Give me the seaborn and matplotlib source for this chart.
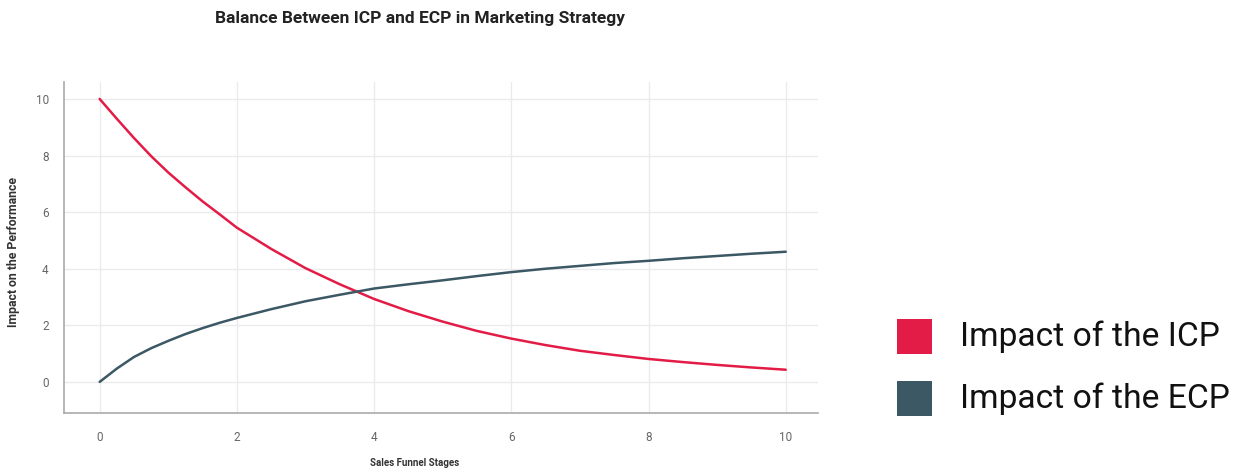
import matplotlib
matplotlib.use("Agg")
import matplotlib.pyplot as plt
from matplotlib.patches import Rectangle
import pandas as pd
import seaborn as sns

# Sales funnel stage positions and the two impact curves
stages = [0, 0.25, 0.5, 0.75, 1, 1.25, 1.5, 1.75, 2, 2.5, 3, 3.5, 4, 4.5, 5, 5.5, 6,
          6.5, 7, 7.5, 8, 8.5, 9, 9.5, 10]
icp_impact = [10, 9.3, 8.62, 7.98, 7.4, 6.88, 6.38, 5.92, 5.45, 4.7, 4.02, 3.45, 2.93,
              2.5, 2.13, 1.8, 1.53, 1.3, 1.1, 0.95, 0.81, 0.7, 0.6, 0.51, 0.43]
ecp_impact = [0, 0.47, 0.88, 1.19, 1.45, 1.69, 1.9, 2.09, 2.26, 2.57, 2.85, 3.08, 3.3,
              3.45, 3.59, 3.74, 3.88, 4.0, 4.1, 4.2, 4.28, 4.37, 4.45, 4.53, 4.6]
series_names = ["Impact of the ICP", "Impact of the ECP"]
series_colors = ["#E31C47", "#3B5864"]
x_ticks = [0, 2, 4, 6, 8, 10]
y_ticks = [0, 2, 4, 6, 8, 10]

df = pd.DataFrame({
    "stage": stages * 2,
    "impact": icp_impact + ecp_impact,
    "series": [series_names[0]] * len(stages) + [series_names[1]] * len(stages),
})

sns.set_style("whitegrid")
plt.rcParams["font.family"] = ["Roboto", "DejaVu Sans"]

fig = plt.figure(figsize=(12.43, 4.70), dpi=100)
ax = fig.add_axes([64 / 1243, 57 / 470, 754 / 1243, 331 / 470])

sns.lineplot(data=df, x="stage", y="impact", hue="series",
             palette=dict(zip(series_names, series_colors)),
             linewidth=1.8, legend=False, ax=ax)

ax.set_xlim(-0.52, 10.47)
ax.set_ylim(-1.1, 10.6)
ax.set_xticks(x_ticks)
ax.set_yticks(y_ticks)
ax.tick_params(axis="both", labelsize=8.5, colors="#666666", length=0, pad=13)
ax.tick_params(axis="y", pad=11)
ax.grid(True, color="#EBEBEB", linewidth=1.0)
for side in ["top", "right"]:
    ax.spines[side].set_visible(False)
for side in ["left", "bottom"]:
    ax.spines[side].set_color("#AAAAAA")
    ax.spines[side].set_linewidth(1.2)
ax.set_xlabel("")
ax.set_ylabel("")

fig.text(420 / 1243, 1 - 19 / 470, "Balance Between ICP and ECP in Marketing Strategy",
         ha="center", va="center", fontsize=12.5, fontweight="bold", color="#222222")
fig.text(415 / 1243, 1 - 463 / 470, "Sales Funnel Stages",
         ha="center", va="center", fontsize=7, fontweight="bold", color="#333333")
fig.text(14 / 1243, 1 - 252 / 470, "Impact on the Performance", rotation=90,
         ha="center", va="center", fontsize=8.8, fontweight="bold", color="#333333")

# Legend drawn as colored squares with labels to the right of the plot
legend_rows = [336, 398]
for name, color, yc in zip(series_names, series_colors, legend_rows):
    fig.patches.append(Rectangle((897 / 1243, 1 - (yc + 17.5) / 470), 35 / 1243, 35 / 470,
                                 transform=fig.transFigure, facecolor=color,
                                 edgecolor="none"))
    fig.text(960 / 1243, 1 - (yc + 1) / 470, name, ha="left", va="center",
             fontsize=24.2, color="#111111")

fig.savefig("out.png", dpi=100)
